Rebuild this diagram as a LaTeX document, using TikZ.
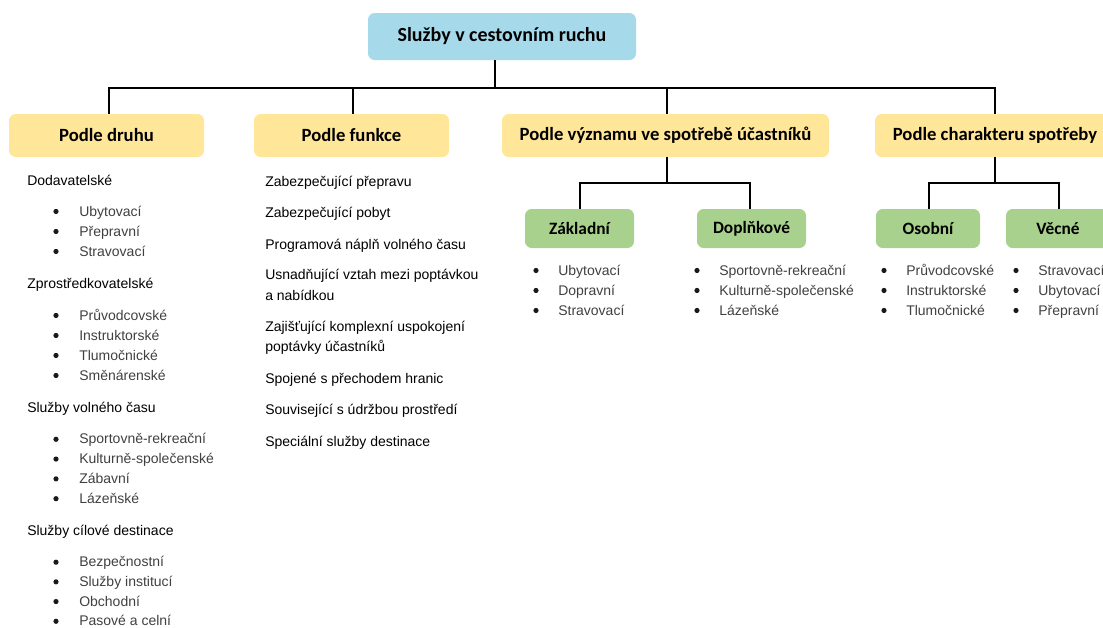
\documentclass[tikz,border=0pt]{standalone}
\usepackage{fontspec}
\setmainfont{Liberation Sans}
\newfontfamily\boxfont{Carlito}
\definecolor{rootblue}{RGB}{166,218,235}
\definecolor{catyellow}{RGB}{255,230,153}
\definecolor{subgreen}{RGB}{169,209,142}
\definecolor{itemgray}{RGB}{64,64,64}
\begin{document}
\begin{tikzpicture}[x=0.75pt,y=-0.75pt,
  box/.style={rounded corners=5pt, inner sep=0pt, align=center, text=black},
  rootbox/.style={box, fill=rootblue, minimum height=35.25pt,
    font=\boxfont\bfseries\fontsize{15pt}{18pt}\selectfont},
  catbox/.style={box, fill=catyellow, minimum height=32.25pt,
    font=\boxfont\bfseries\fontsize{14pt}{17pt}\selectfont},
  subbox/.style={box, fill=subgreen, minimum height=29.25pt,
    font=\boxfont\bfseries\fontsize{13pt}{16pt}\selectfont},
  link/.style={draw=black, line width=1.5pt},
  hdr/.style={anchor=base west, inner sep=0pt, text=black,
    font=\fontsize{10.5pt}{12pt}\selectfont},
  itm/.style={anchor=base west, inner sep=0pt, text=itemgray,
    font=\fontsize{10.5pt}{12pt}\selectfont},
  bul/.style={circle, fill=black!90, inner sep=0pt, minimum size=3.9pt,
    yshift=3.4pt},
]
\useasboundingbox (0,0) rectangle (1103,628);
\clip (0,0) rectangle (1103,628);

% boxes
\node[rootbox, minimum width=201pt] (root) at (502,36.5) {Služby v cestovním ruchu};
\node[catbox, minimum width=146.25pt] (druh) at (106.5,135.5) {Podle druhu};
\node[catbox, minimum width=146.25pt] (funkce) at (351.5,135.5) {Podle funkce};
\node[catbox, minimum width=245.25pt] (vyznam) at (665.5,135.5) {Podle významu ve spotřebě účastníků};
\node[catbox, minimum width=180pt] (charakter) at (995,135.5) {Podle charakteru spotřeby};
\node[subbox, minimum width=81.75pt] (zakl) at (579.5,228.5) {Základní};
\node[subbox, minimum width=81.75pt] (dopl) at (751.5,228.5) {Doplňkové};
\node[subbox, minimum width=78pt] (osob) at (928,228.5) {Osobní};
\node[subbox, minimum width=78pt] (vecn) at (1058,228.5) {Věcné};

% connectors
\coordinate (bus) at (0,88);
\coordinate (sub) at (0,183);
\coordinate (rootdrop) at ([xshift=-5.25pt]root.south);
\draw[link] (rootdrop) -- (rootdrop |- bus);
\draw[link] ([xshift=1.9pt]druh.north) -- ([xshift=1.9pt]druh.north |- bus)
  -- (charakter.north |- bus) -- (charakter.north);
\draw[link] ([xshift=1.1pt]funkce.north) -- ([xshift=1.1pt]funkce.north |- bus);
\draw[link] ([xshift=1.1pt]vyznam.north) -- ([xshift=1.1pt]vyznam.north |- bus);
\draw[link] ([xshift=1.1pt]vyznam.south) -- ([xshift=1.1pt]vyznam.south |- sub);
\draw[link] (zakl.north) -- (zakl.north |- sub) -- ([xshift=-1.1pt]dopl.north |- sub) -- ([xshift=-1.1pt]dopl.north);
\draw[link] (charakter.south) -- (charakter.south |- sub);
\draw[link] ([xshift=0.75pt]osob.north) -- ([xshift=0.75pt]osob.north |- sub) -- ([xshift=0.75pt]vecn.north |- sub) -- ([xshift=0.75pt]vecn.north);

% Podle druhu
\node[hdr] (h1) at (27,185) {Dodavatelské};
\foreach \t [count=\i] in {Ubytovací, Přepravní, Stravovací} {
  \node[bul] (ba\i) at (56,{196+20*\i}) {};
  \node[itm] (ia\i) at (79,{196+20*\i}) {\t};
}
\node[hdr] (h2) at (27,288) {Zprostředkovatelské};
\foreach \t [count=\i] in {Průvodcovské, Instruktorské, Tlumočnické, Směnárenské} {
  \node[bul] (bb\i) at (56,{300+20*\i}) {};
  \node[itm] (ib\i) at (79,{300+20*\i}) {\t};
}
\node[hdr] (h3) at (27,412) {Služby volného času};
\foreach \t [count=\i] in {Sportovně-rekreační, Kulturně-společenské, Zábavní, Lázeňské} {
  \node[bul] (bc\i) at (56,{424+19.8*\i}) {};
  \node[itm] (ic\i) at (79,{424+19.8*\i}) {\t};
}
\node[hdr] (h4) at (27,535) {Služby cílové destinace};
\foreach \t [count=\i] in {Bezpečnostní, Služby institucí, Obchodní, Pasové a celní} {
  \node[bul] (bd\i) at (56,{547+19.7*\i}) {};
  \node[itm] (id\i) at (79,{547+19.7*\i}) {\t};
}

% Podle funkce
\node[hdr] (f1) at (265,186) {Zabezpečující přepravu};
\node[hdr] (f2) at (265,217) {Zabezpečující pobyt};
\node[hdr] (f3) at (265,249) {Programová náplň volného času};
\node[hdr] (f4) at (265,279) {Usnadňující vztah mezi poptávkou};
\node[hdr] (f4b) at (265,300) {a nabídkou};
\node[hdr] (f5) at (265,331) {Zajišťující komplexní uspokojení};
\node[hdr] (f5b) at (265,351) {poptávky účastníků};
\node[hdr] (f6) at (265,383) {Spojené s přechodem hranic};
\node[hdr] (f7) at (265,414) {Související s údržbou prostředí};
\node[hdr] (f8) at (265,446) {Speciální služby destinace};

% lists under the green boxes
\foreach \t [count=\i] in {Ubytovací, Dopravní, Stravovací} {
  \node[bul] (bz\i) at (536,{255+20*\i}) {};
  \node[itm] (iz\i) at (558,{255+20*\i}) {\t};
}
\foreach \t [count=\i] in {Sportovně-rekreační, Kulturně-společenské, Lázeňské} {
  \node[bul] (bp\i) at (697,{255+20*\i}) {};
  \node[itm] (ip\i) at (719,{255+20*\i}) {\t};
}
\foreach \t [count=\i] in {Průvodcovské, Instruktorské, Tlumočnické} {
  \node[bul] (bo\i) at (884,{255+20*\i}) {};
  \node[itm] (io\i) at (906,{255+20*\i}) {\t};
}
\foreach \t [count=\i] in {Stravovací, Ubytovací, Přepravní} {
  \node[bul] (bv\i) at (1016,{255+20*\i}) {};
  \node[itm] (iv\i) at (1038,{255+20*\i}) {\t};
}
\end{tikzpicture}
\end{document}
